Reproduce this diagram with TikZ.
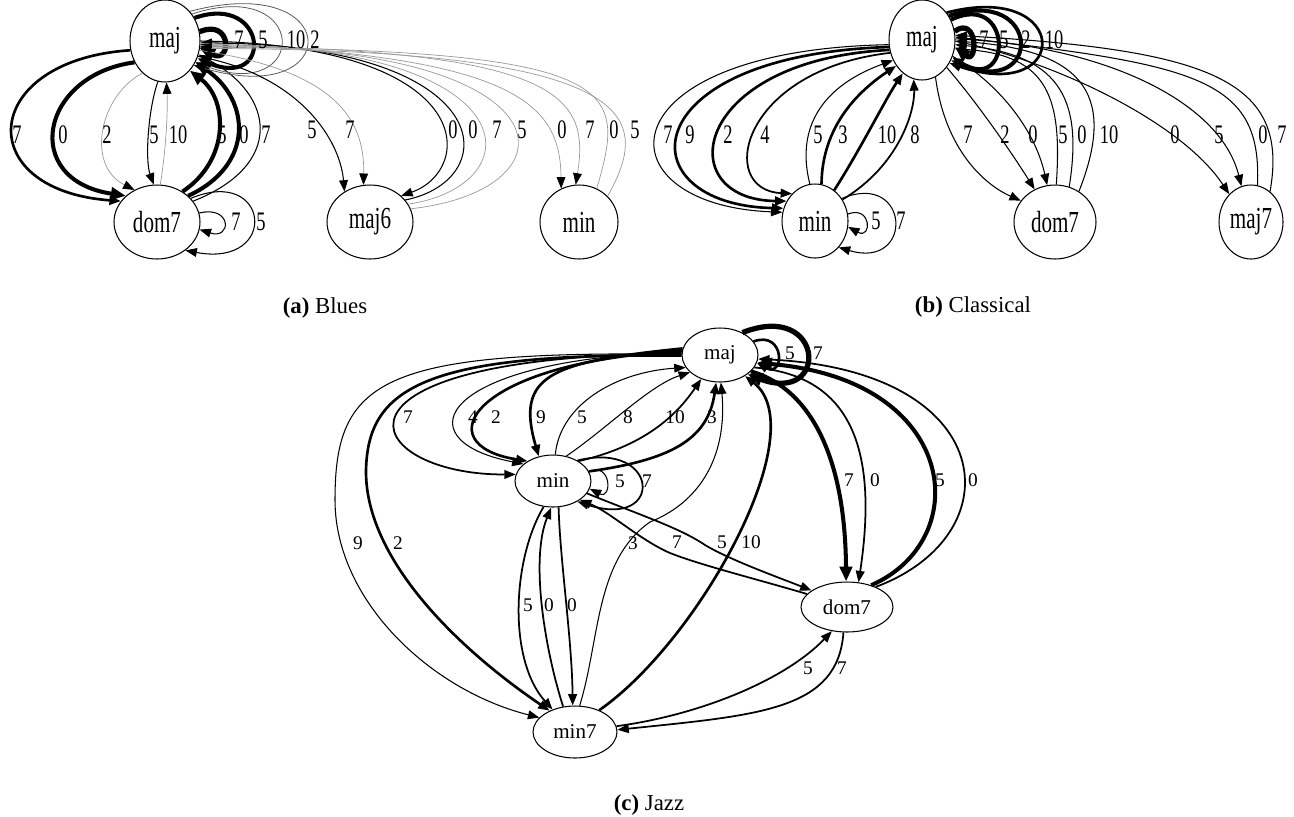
\documentclass[tikz,border=0pt]{standalone}
\usepackage{fontspec}
\setmainfont{Liberation Serif}
\usetikzlibrary{shapes.geometric,arrows.meta}
\newcommand\st[1]{\scalebox{1}[1.45]{#1}}
\begin{document}
\begin{tikzpicture}[x=0.02cm,y=-0.02cm,
  nd/.style={draw, ellipse, inner sep=0pt, line width=0.6pt, font=\fontsize{12}{12}\selectfont},
  lab/.style={inner sep=0pt, font=\fontsize{10.5}{11}\selectfont},
  labc/.style={inner sep=0pt, font=\fontsize{11}{11}\selectfont},
  captxt/.style={inner sep=0pt, font=\fontsize{13}{14}\selectfont},
  ar/.style={-{Triangle[length=6.5pt,width=5pt,color=black]}},
  arb/.style={-{Triangle[length=8.5pt,width=7pt,color=black]}},
  g1/.style={line width=0.4pt, draw=black!40},
  g2/.style={line width=0.45pt, draw=black!65},
  t1/.style={line width=0.6pt},
  t2/.style={line width=1.0pt},
  t3/.style={line width=1.5pt},
  t4/.style={line width=2.3pt},
  t5/.style={line width=3pt},
]
\useasboundingbox (0,0) rectangle (1294,816);

% ================= (a) Blues =================
\node[nd, minimum width=1.4cm, minimum height=1.64cm] (amaj) at (165,41) {\st{maj}};
\node[nd, minimum width=1.72cm, minimum height=1.48cm] (adom) at (157,222) {\st{dom7}};
\node[nd, minimum width=1.72cm, minimum height=1.48cm] (amaj6) at (370,222) {\st{maj6}};
\node[nd, minimum width=1.56cm, minimum height=1.48cm] (amin) at (579,222) {\st{min}};

\draw[t3,ar] (amaj.195) .. controls (-20,60) and (-30,190) .. (adom.150);
\draw[t4,arb] (amaj.215) .. controls (40,75) and (20,180) .. (adom.140);
\draw[g1,ar] (amaj.235) .. controls (100,95) and (85,165) .. (adom.125);
\draw[t1,ar] (amaj.260) .. controls (148,110) and (145,160) .. (adom.95);
\draw[g1,ar] (adom.85) .. controls (166,150) and (168,110) .. (amaj.272);
\draw[t4,arb] (adom.50) .. controls (230,160) and (228,100) .. (amaj.310);
\draw[t4,arb] (adom.40) .. controls (255,165) and (250,100) .. (amaj.325);
\draw[t1,ar] (adom.30) .. controls (285,165) and (275,95) .. (amaj.338);
% self loops maj
\draw[t5,arb] (amaj.15) .. controls (232,18) and (232,64) .. (amaj.-12);
\draw[t4,ar] (amaj.38) .. controls (268,-8) and (275,92) .. (amaj.-28);
\draw[g2,ar] (amaj.45) .. controls (310,-25) and (310,105) .. (amaj.-35);
\draw[g2,ar] (amaj.50) .. controls (345,-30) and (345,110) .. (amaj.-40);
% self loops dom7
\draw[t1,ar] (adom.12) .. controls (232,205) and (232,240) .. (adom.-10);
\draw[t1,ar] (adom.35) .. controls (270,165) and (280,268) .. (adom.-45);
% maj <-> maj6
\draw[t1,ar] (amaj.335) .. controls (300,75) and (340,140) .. (amaj6.130);
\draw[g1,ar] (amaj.345) .. controls (330,70) and (365,115) .. (amaj6.100);
\draw[t1,ar] (amaj.0) .. controls (480,45) and (475,170) .. (amaj6.40);
\draw[t1,ar] (amaj6.32) .. controls (505,180) and (500,45) .. (amaj.-3);
\draw[g1,ar] (amaj6.25) .. controls (535,185) and (530,45) .. (amaj.-6);
\draw[g1,ar] (amaj6.18) .. controls (580,190) and (575,45) .. (amaj.-9);
% maj <-> min
\draw[g1,ar] (amaj.-4) .. controls (520,55) and (560,105) .. (amin.118);
\draw[g1,ar] (amaj.-7) .. controls (560,50) and (590,95) .. (amin.95);
\draw[g1,ar] (amin.62) .. controls (625,90) and (630,50) .. (amaj.-10);
\draw[g1,ar] (amin.42) .. controls (650,120) and (650,50) .. (amaj.-12);

\node[lab] (la1) at (17,135) {\st{7}};
\node[lab] (la2) at (63,135) {\st{0}};
\node[lab] (la3) at (107,135) {\st{2}};
\node[lab] (la4) at (154,135) {\st{5}};
\node[lab] (la5) at (178,135) {\st{10}};
\node[lab] (la6) at (222,135) {\st{5}};
\node[lab] (la7) at (244,135) {\st{0}};
\node[lab] (la8) at (266,135) {\st{7}};
\node[lab] (la9) at (239,40) {\st{7}};
\node[lab] (la10) at (263,40) {\st{5}};
\node[lab] (la11) at (296,40) {\st{10}};
\node[lab] (la12) at (315,40) {\st{2}};
\node[lab] (la13) at (236,222) {\st{7}};
\node[lab] (la14) at (261,222) {\st{5}};
\node[lab] (la15) at (312,130) {\st{5}};
\node[lab] (la16) at (350,130) {\st{7}};
\node[lab] (la17) at (453,130) {\st{0}};
\node[lab] (la18) at (473,130) {\st{0}};
\node[lab] (la19) at (497,130) {\st{7}};
\node[lab] (la20) at (522,130) {\st{5}};
\node[lab] (la21) at (562,130) {\st{0}};
\node[lab] (la22) at (590,130) {\st{7}};
\node[lab] (la23) at (614,130) {\st{0}};
\node[lab] (la24) at (635,130) {\st{5}};

% ================= (b) Classical =================
\node[nd, minimum width=1.32cm, minimum height=1.6cm] (bmaj) at (922,40) {\st{maj}};
\node[nd, minimum width=1.32cm, minimum height=1.48cm] (bmin) at (815,221) {\st{min}};
\node[nd, minimum width=1.64cm, minimum height=1.48cm] (bdom) at (1055,222) {\st{dom7}};
\node[nd, minimum width=1.28cm, minimum height=1.48cm] (bmaj7) at (1251,222) {\st{maj7}};

\draw[t1,ar] (bmaj.188) .. controls (600,50) and (598,205) .. (bmin.165);
\draw[t3,ar] (bmaj.192) .. controls (630,55) and (625,205) .. (bmin.158);
\draw[t3,ar] (bmaj.197) .. controls (690,60) and (670,200) .. (bmin.145);
\draw[t2,ar] (bmaj.202) .. controls (740,70) and (716,190) .. (bmin.130);
\draw[t1,ar] (bmin.98) .. controls (795,125) and (825,85) .. (bmaj.215);
\draw[t3,ar] (bmin.80) .. controls (822,125) and (860,90) .. (bmaj.225);
\draw[t3,ar] (bmin.58) .. controls (860,150) and (885,100) .. (bmaj.240);
\draw[t2,ar] (bmin.38) .. controls (900,165) and (915,110) .. (bmaj.258);
\draw[t1,ar] (bmin.12) .. controls (872,205) and (872,240) .. (bmin.-10);
\draw[t1,ar] (bmin.40) .. controls (910,170) and (915,270) .. (bmin.-48);
% maj loops
\draw[t5,arb] (bmaj.15) .. controls (978,15) and (978,65) .. (bmaj.-12);
\draw[t4,ar] (bmaj.35) .. controls (1013,-10) and (1013,95) .. (bmaj.-30);
\draw[t4,ar] (bmaj.42) .. controls (1043,-15) and (1043,100) .. (bmaj.-35);
\draw[t3,ar] (bmaj.48) .. controls (1072,-20) and (1072,105) .. (bmaj.-40);
% maj <-> dom7
\draw[t1,ar] (bmaj.290) .. controls (945,150) and (985,185) .. (bdom.148);
\draw[t1,ar] (bmaj.312) .. controls (975,100) and (1010,150) .. (bdom.122);
\draw[t1,ar] (bmaj.332) .. controls (1000,85) and (1035,130) .. (bdom.102);
\draw[t1,ar] (bdom.88) .. controls (1062,100) and (1050,55) .. (bmaj.345);
\draw[t1,ar] (bdom.68) .. controls (1082,105) and (1065,55) .. (bmaj.352);
\draw[t1,ar] (bdom.52) .. controls (1115,100) and (1090,50) .. (bmaj.358);
% maj <-> maj7
\draw[t1,ar] (bmaj.-2) .. controls (1050,60) and (1180,120) .. (bmaj7.128);
\draw[t1,ar] (bmaj.2) .. controls (1100,45) and (1220,100) .. (bmaj7.105);
\draw[t1,ar] (bmaj7.80) .. controls (1262,80) and (1200,65) .. (bmaj.5);
\draw[t1,ar] (bmaj7.58) .. controls (1290,80) and (1210,50) .. (bmaj.8);

\node[lab] (lb1) at (668,135) {\st{7}};
\node[lab] (lb2) at (690,135) {\st{9}};
\node[lab] (lb3) at (728,135) {\st{2}};
\node[lab] (lb4) at (765,135) {\st{4}};
\node[lab] (lb5) at (818,135) {\st{5}};
\node[lab] (lb6) at (843,135) {\st{3}};
\node[lab] (lb7) at (887,135) {\st{10}};
\node[lab] (lb8) at (915,135) {\st{8}};
\node[lab] (lb9) at (876,221) {\st{5}};
\node[lab] (lb10) at (901,221) {\st{7}};
\node[lab] (lb11) at (984,40) {\st{7}};
\node[lab] (lb12) at (1004,40) {\st{5}};
\node[lab] (lb13) at (1026,40) {\st{2}};
\node[lab] (lb14) at (1054,40) {\st{10}};
\node[lab] (lb15) at (968,135) {\st{7}};
\node[lab] (lb16) at (1005,135) {\st{2}};
\node[lab] (lb17) at (1033,135) {\st{0}};
\node[lab] (lb18) at (1063,135) {\st{5}};
\node[lab] (lb19) at (1082,135) {\st{0}};
\node[lab] (lb20) at (1109,135) {\st{10}};
\node[lab] (lb21) at (1175,135) {\st{0}};
\node[lab] (lb22) at (1219,135) {\st{5}};
\node[lab] (lb23) at (1263,135) {\st{0}};
\node[lab] (lb24) at (1282,135) {\st{7}};

% ================= (c) Jazz =================
\node[nd, minimum width=1.52cm, minimum height=1.08cm] (cmaj) at (720,355) {maj};
\node[nd, minimum width=1.52cm, minimum height=1.04cm] (cmin) at (553,481) {min};
\node[nd, minimum width=1.84cm, minimum height=1.0cm] (cdom) at (847,607) {dom7};
\node[nd, minimum width=1.68cm, minimum height=1.04cm] (cmin7) at (575,732) {min7};

% maj -> min
\draw[t2,ar] (cmaj.178) .. controls (300,355) and (360,475) .. (cmin.170);
\draw[t1,ar] (cmaj.176) .. controls (440,358) and (400,440) .. (cmin.150);
\draw[t3,ar] (cmaj.174) .. controls (470,362) and (425,445) .. (cmin.142);
\draw[t3,ar] (cmaj.170) .. controls (550,362) and (515,375) .. (cmin.120);
% min -> maj
\draw[t1,ar] (cmin.85) .. controls (560,405) and (615,372) .. (cmaj.200);
\draw[t1,ar] (cmin.62) .. controls (605,430) and (650,385) .. (cmaj.210);
\draw[t2,ar] (cmin.38) .. controls (650,445) and (680,410) .. (cmaj.232);
\draw[t3,ar] (cmin.15) .. controls (670,460) and (708,440) .. (cmaj.262);
% maj loops
\draw[t3,ar] (cmaj.22) .. controls (785,330) and (785,378) .. (cmaj.-12);
\draw[t5,arb] (cmaj.45) .. controls (825,300) and (830,405) .. (cmaj.-35);
% min loops
\draw[t1,ar] (cmin.15) .. controls (612,462) and (612,500) .. (cmin.-12);
\draw[t2,ar] (cmin.40) .. controls (660,440) and (665,530) .. (cmin.-40);
% maj -> min7 outer
\draw[t1,ar] (cmaj.179) .. controls (380,350) and (335,380) .. (335,500) .. controls (335,600) and (430,690) .. (cmin7.158);
\draw[t3,ar] (cmaj.181) .. controls (420,352) and (368,390) .. (366,470) .. controls (365,560) and (460,650) .. (cmin7.140);
% min7 -> maj
\draw[t1,ar] (cmin7.80) .. controls (600,640) and (595,560) .. (650,522) .. controls (705,500) and (727,450) .. (cmaj.272);
\draw[t3,ar] (cmin7.42) .. controls (700,640) and (815,430) .. (cmaj.-40);
% min <-> dom7
\draw[t2,ar] (cmin.-20) .. controls (640,515) and (680,528) .. (705,545) .. controls (730,560) and (780,578) .. (cdom.155);
\draw[t2,ar] (cdom.162) .. controls (760,580) and (700,565) .. (670,553) .. controls (640,540) and (610,512) .. (cmin.-35);
% maj <-> dom7
\draw[t4,arb] (cmaj.-28) .. controls (800,385) and (845,440) .. (cdom.92);
\draw[t2,ar] (cmaj.-20) .. controls (845,375) and (880,440) .. (cdom.65);
\draw[t4,arb] (cdom.42) .. controls (975,540) and (960,380) .. (cmaj.-12);
\draw[t2,ar] (cdom.35) .. controls (1015,535) and (1000,370) .. (cmaj.-6);
% min <-> min7
\draw[t2,ar] (cmin.250) .. controls (512,560) and (508,660) .. (cmin7.135);
\draw[t2,ar] (cmin7.115) .. controls (545,650) and (530,560) .. (cmin.266);
\draw[t2,ar] (cmin.282) .. controls (560,560) and (572,640) .. (cmin7.95);
% dom7 <-> min7
\draw[t2,ar] (cmin7.8) .. controls (700,715) and (785,680) .. (cdom.238);
\draw[t2,ar] (cdom.262) .. controls (838,710) and (760,715) .. (cmin7.3);

\node[labc] (lc1) at (408,417) {7};
\node[labc] (lc2) at (473,417) {4};
\node[labc] (lc3) at (496,417) {2};
\node[labc] (lc4) at (541,417) {9};
\node[labc] (lc5) at (582,417) {5};
\node[labc] (lc6) at (628,417) {8};
\node[labc] (lc7) at (675,417) {10};
\node[labc] (lc8) at (712,417) {3};
\node[labc] (lc9) at (790,353) {5};
\node[labc] (lc10) at (818,353) {7};
\node[labc] (lc11) at (620,481) {5};
\node[labc] (lc12) at (647,481) {7};
\node[labc] (lc13) at (358,543) {9};
\node[labc] (lc14) at (398,543) {2};
\node[labc] (lc15) at (633,543) {3};
\node[labc] (lc16) at (677,542) {7};
\node[labc] (lc17) at (722,542) {5};
\node[labc] (lc18) at (751,542) {10};
\node[labc] (lc19) at (849,480) {7};
\node[labc] (lc20) at (875,480) {0};
\node[labc] (lc21) at (940,480) {5};
\node[labc] (lc22) at (973,480) {0};
\node[labc] (lc23) at (528,605) {5};
\node[labc] (lc24) at (549,605) {0};
\node[labc] (lc25) at (572,605) {0};
\node[labc] (lc26) at (808,668) {5};
\node[labc] (lc27) at (842,668) {7};

% captions
\node[captxt] (capa) at (325,308) {\textbf{(a)} Blues};
\node[captxt] (capb) at (973,307) {\textbf{(b)} Classical};
\node[captxt] (capc) at (649,805) {\textbf{(c)} Jazz};
\end{tikzpicture}
\end{document}
